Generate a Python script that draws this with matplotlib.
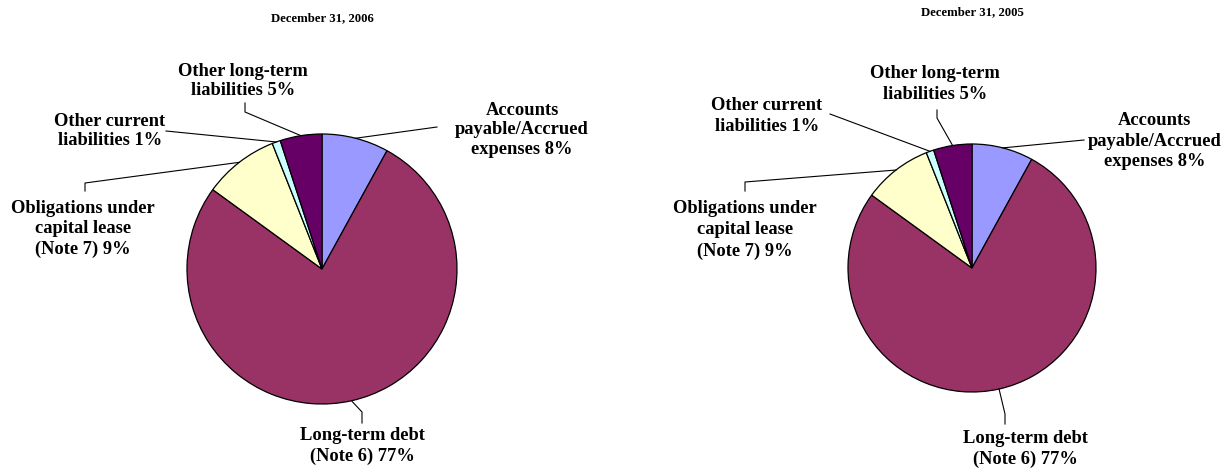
import matplotlib
matplotlib.use("Agg")
import matplotlib.pyplot as plt
import numpy as np

categories = ["Accounts\npayable/Accrued\nexpenses", "Long-term debt\n(Note 6)",
              "Obligations under\ncapital lease\n(Note 7)", "Other current\nliabilities",
              "Other long-term\nliabilities"]
values_2006 = [8, 77, 9, 1, 5]
values_2005 = [8, 77, 9, 1, 5]
titles = ["December 31, 2006", "December 31, 2005"]
colors = ["#9999FF", "#993366", "#FFFFCC", "#CCFFFF", "#660066"]

W, H = 1228, 470
fig = plt.figure(figsize=(W / 100, H / 100), dpi=100)
ax = fig.add_axes([0, 0, 1, 1])

font = dict(family="Liberation Serif", fontweight="bold")

def Y(y):
    return H - y

# layout per pie: center, radius, title pos, label positions, leader knees
layouts = [
    dict(center=(322, 269), r=135, title=(322, 18), lsp=1.22,
         labels=[(522, 130), (362, 446), (83, 229), (110, 131), (243, 81)],
         knees=[[(437, 127)], [(362, 412), (362, 423)], [(85, 183), (85, 191)],
                [(166, 131)], [(245, 112), (245, 103)]]),
    dict(center=(972, 268), r=124, title=(972, 12), lsp=1.3,
         labels=[(1155, 141), (1025, 449), (745, 230), (767, 116), (935, 84)],
         knees=[[(1084, 140)], [(1005, 414), (1005, 424)], [(745, 182), (745, 191)],
                [(830, 114)], [(937, 118), (937, 110)]]),
]

for vals, title, lay in zip([values_2006, values_2005], titles, layouts):
    cx, cy = lay["center"]
    r = lay["r"]
    wedges, _ = ax.pie(vals, colors=colors, startangle=90, counterclock=False,
                       center=(cx, Y(cy)), radius=r,
                       wedgeprops=dict(edgecolor="black", linewidth=0.9))
    ax.text(lay["title"][0], Y(lay["title"][1]), title, ha="center", va="center",
            fontsize=9.2, **font)
    for w, cat, v, (lx, ly), knees in zip(wedges, categories, vals, lay["labels"], lay["knees"]):
        mid = np.deg2rad((w.theta1 + w.theta2) / 2)
        sx, sy = cx + r * np.cos(mid), Y(cy) + r * np.sin(mid)
        xs = [sx] + [k[0] for k in knees]
        ys = [sy] + [Y(k[1]) for k in knees]
        ax.plot(xs, ys, color="black", linewidth=0.8)
        ax.text(lx, Y(ly), f"{cat} {v}%", ha="center", va="center", fontsize=13.3,
                linespacing=lay["lsp"], **font)

ax.set_xlim(0, W)
ax.set_ylim(0, H)
ax.set_aspect("equal")
ax.axis("off")
fig.savefig("out.png", dpi=100)
